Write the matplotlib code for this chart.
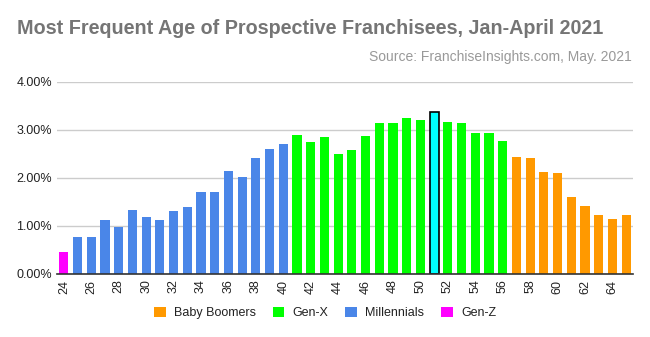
import matplotlib
matplotlib.use("Agg")
import matplotlib.pyplot as plt
from matplotlib.patches import Patch
from matplotlib.ticker import FuncFormatter

plt.rcParams['font.family'] = ['Liberation Sans', 'DejaVu Sans']

ages = list(range(24, 66))
values = [0.46, 0.78, 0.78, 1.13, 0.98, 1.34, 1.19, 1.13, 1.31, 1.40,
          1.71, 1.71, 2.15, 2.02, 2.42, 2.60, 2.71,
          2.89, 2.75, 2.85, 2.50, 2.58, 2.87, 3.14, 3.14, 3.25, 3.20,
          3.38, 3.16, 3.14, 2.93, 2.93, 2.77,
          2.44, 2.42, 2.12, 2.10, 1.61, 1.42, 1.23, 1.15, 1.23]
generation_ranges = {"Gen-Z": (24, 24), "Millennials": (25, 40),
                     "Gen-X": (41, 56), "Baby Boomers": (57, 65)}
highlight_age = 51
colors = {"Baby Boomers": "#ff9900", "Gen-X": "#00ff00",
          "Millennials": "#4a86e8", "Gen-Z": "#ff00ff"}
legend_order = ["Baby Boomers", "Gen-X", "Millennials", "Gen-Z"]

def gen_of(a):
    for g, (lo, hi) in generation_ranges.items():
        if lo <= a <= hi:
            return g

fig = plt.figure(figsize=(6.5, 3.37), dpi=100)
ax = fig.add_axes([57/650, 1-274/337, 576/650, 192/337])

for a, v in zip(ages, values):
    if a == highlight_age:
        ax.bar(a, v, width=0.66, color="#00ffff", edgecolor="black", linewidth=1.2, zorder=3)
    else:
        ax.bar(a, v, width=0.66, color=colors[gen_of(a)], zorder=3)

ax.set_xlim(23.5, 65.5)
ax.set_ylim(0, 4)
ax.set_yticks([0, 1, 2, 3, 4])
ax.yaxis.set_major_formatter(FuncFormatter(lambda y, p: f"{y:.2f}%"))
ax.set_xticks(list(range(24, 65, 2)))
ax.set_xticklabels([str(a) for a in range(24, 65, 2)], rotation=90)
ax.tick_params(axis='both', length=0, labelsize=9, colors="#222222")
ax.tick_params(axis='y', pad=3.6)
ax.tick_params(axis='x', pad=4)
ax.grid(axis='y', color="#cccccc", linewidth=1, zorder=0)
for s in ["top", "right", "left"]:
    ax.spines[s].set_visible(False)
ax.spines["bottom"].set_color("#333333")
ax.spines["bottom"].set_linewidth(1.2)
ax.spines["bottom"].set_zorder(4)

handles = [Patch(facecolor=colors[g], label=g) for g in legend_order]
fig.legend(handles=handles, loc="center", bbox_to_anchor=(0.5, 1-313/337), ncol=4,
           frameon=False, fontsize=9, handlelength=0.95, handleheight=0.95,
           columnspacing=1.35, handletextpad=0.65, labelcolor="#222222")

fig.text(17/650, 1-28/337, "Most Frequent Age of Prospective Franchisees, Jan-April 2021",
         fontsize=14.2, fontweight="bold", color="#757575", ha="left", va="center")
fig.text(632/650, 1-57/337, "Source: FranchiseInsights.com, May. 2021",
         fontsize=10, color="#999999", ha="right", va="center")

fig.savefig("out.png", dpi=100)
